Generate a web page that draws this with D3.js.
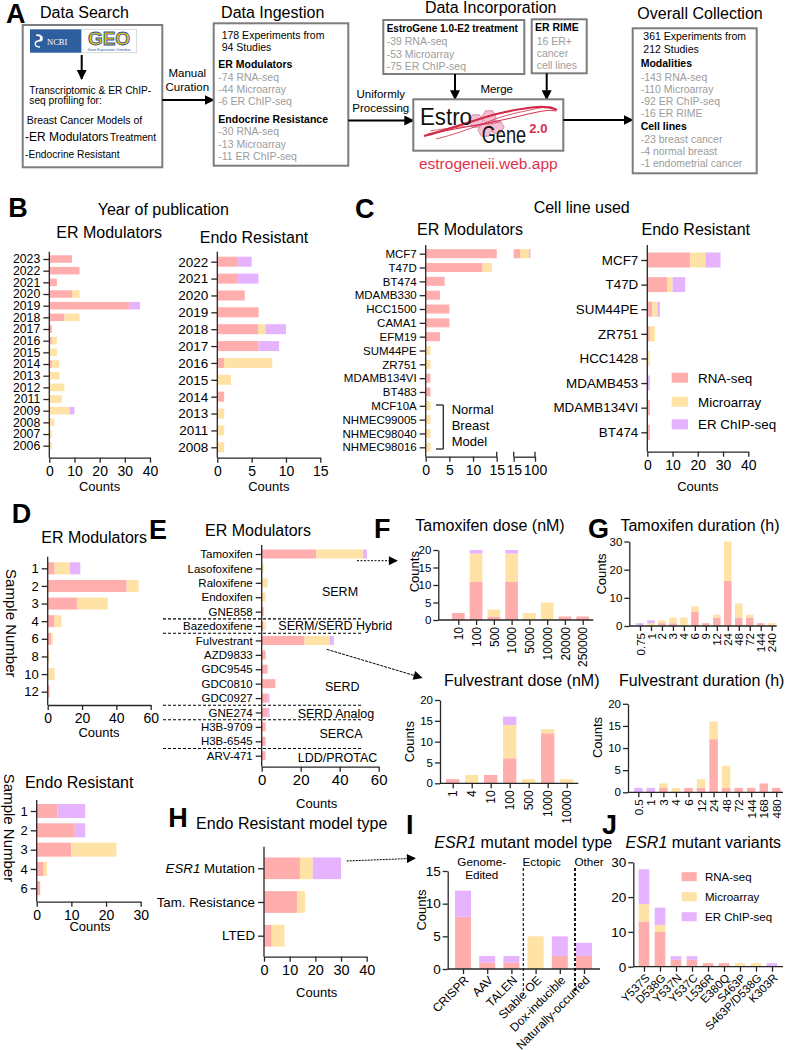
<!DOCTYPE html>
<html><head><meta charset="utf-8">
<script src="https://cdn.jsdelivr.net/npm/d3@7"></script>
<style>body{margin:0;background:#fff}svg{display:block}</style>
</head><body><svg id="c" width="785" height="1050"></svg>
<script>
// ================= DATA =================
const seriesKeys = ["rna","mic","chip"];
const seriesLabels = ["RNA-seq","Microarray","ER ChIP-seq"];

const yearsER = ["2023","2022","2021","2020","2019","2018","2017","2016","2015","2014","2013","2012","2011","2009","2008","2007","2006"];
const yearsER_rna  = [9,12,3,9,32,6,1,1,0,1,0,0,0,0,0,0,0];
const yearsER_mic  = [0,0,0,3,0,6,0,2,3,3,4,6,5,8,2,1,1];
const yearsER_chip = [0,0,0,0,4,0,0,0,0,0,0,0,0,2,0,0,0];

const yearsEndo = ["2022","2021","2020","2019","2018","2017","2016","2015","2014","2013","2011","2008"];
const yearsEndo_rna  = [3,3,4,6,6,6,1,0,1,0,0,0];
const yearsEndo_mic  = [0,0,0,0,1,0,7,2,0,1,1,1];
const yearsEndo_chip = [2,3,0,0,3,3,0,0,0,0,0,0];

const cellER = ["MCF7","T47D","BT474","MDAMB330","HCC1500","CAMA1","EFM19","SUM44PE","ZR751","MDAMB134VI","BT483","MCF10A","NHMEC99005","NHMEC98040","NHMEC98016"];
const cellER_rna  = [40,12,4,3,5,5,3,0,0,1,1,0,0,0,0];
const cellER_mic  = [36,2,0,0,0,0,0,1,1,0,0,1,1,1,1];
const cellER_chip = [6,0,0,0,0,0,0,0,0,0,0,0,0,0,0];

const cellEndo = ["MCF7","T47D","SUM44PE","ZR751","HCC1428","MDAMB453","MDAMB134VI","BT474"];
const cellEndo_rna  = [17,8,2,1,0,0,1,1];
const cellEndo_mic  = [6,2,2,2,1,0,0,0];
const cellEndo_chip = [6,5,1,0,0,1,0,0];

const sampER = ["1","2","3","4","6","8","10","12"];
const sampER_rna  = [4,46,17,4,2,0,0,1];
const sampER_mic  = [9,7,18,4,1,1,4,0];
const sampER_chip = [6,0,0,0,0,0,0,0];

const sampEndo = ["1","2","3","4","6"];
const sampEndo_rna  = [6,11,10,2,1];
const sampEndo_mic  = [0,0,13,1,0];
const sampEndo_chip = [8,3,0,0,0];

const drugs = ["Tamoxifen","Lasofoxifene","Raloxifene","Endoxifen","GNE858","Bazedoxifene","Fulvestrant","AZD9833","GDC9545","GDC0810","GDC0927","GNE274","H3B-9709","H3B-6545","ARV-471"];
const drugs_rna  = [28,0,0,0,1,1,22,2,3,7,3,3,2,2,2];
const drugs_mic  = [24,1,3,2,0,1,13,0,0,0,0,0,0,0,0];
const drugs_chip = [2,0,0,0,0,0,2,0,0,0,1,1,0,0,0];

const tamDose = ["10","100","500","1000","5000","10000","20000","250000"];
const tamDose_rna  = [2,11,1,11,0,0,1,1];
const tamDose_mic  = [0,8,2,8,2,5,0,0];
const tamDose_chip = [0,1,0,1,0,0,0,0];

const tamDur = ["0.75","1","2","3","4","6","9","12","24","48","72","144","240"];
const tamDur_rna  = [0,0,1,1,0,5,1,3,16,3,3,1,0];
const tamDur_mic  = [0,1,1,2,3,2,0,1,14,5,1,0,1];
const tamDur_chip = [1,1,0,0,0,0,0,0,0,0,0,0,0];

const fulDose = ["1","4","10","100","500","1000","10000"];
const fulDose_rna  = [1,0,2,6,0,12,0];
const fulDose_mic  = [0,2,0,8,1,1,1];
const fulDose_chip = [0,0,0,2,0,0,0];

const fulDur = ["0.5","1","3","4","6","12","24","48","72","144","168","480"];
const fulDur_rna  = [0,0,1,0,1,1,12,1,1,1,2,1];
const fulDur_mic  = [0,0,1,1,0,2,4,5,0,0,0,0];
const fulDur_chip = [1,1,0,0,0,0,0,0,0,0,0,0];

const models = ["ESR1 Mutation","Tam. Resistance","LTED"];
const models_rna  = [14,13,3];
const models_mic  = [5,3,5];
const models_chip = [11,0,0];

const mutTypes = ["CRISPR","AAV","TALEN","Stable OE","Dox-inducible","Naturally-occurred"];
const mutTypes_rna  = [8,1,1,0,2,2];
const mutTypes_mic  = [0,0,0,5,0,0];
const mutTypes_chip = [4,1,1,0,3,2];

const variants = ["Y537S","D538G","Y537N","Y537C","L536R","E380Q","S463P","S463P/D538G","K303R"];
const variants_rna  = [13,10,2,2,1,1,0,0,0];
const variants_mic  = [5,2,0,0,0,0,1,1,0];
const variants_chip = [10,5,1,1,0,0,0,0,1];

// tick labels
const ticksB1 = [0,10,20,30,40], ticksB2 = [0,5,10,15];
const ticksC1a = [0,5,10,15], ticksC1b = [15,100], ticksC2 = [0,10,20,30,40];
const ticksD1 = [0,20,40,60], ticksD2 = [0,10,20,30];
const ticksE = [0,20,40,60], ticksH = [0,10,20,30,40];
const ticks20 = [0,5,10,15,20], ticks30 = [0,10,20,30], ticksI = [0,5,10,15];

// ================= STYLE =================
const FONT = "'Liberation Sans', Arial, Helvetica, sans-serif";
const COL = {rna:"#ffadad", mic:"#ffe2a6", chip:"#e6b3ff"};
const AX = "#262626";
const TICK = 5;
const GRAY = "#9c9c9c";
const BOXC = "#7d7d7d";

const svg = d3.select('#c');
svg.append('rect').attr('width',785).attr('height',1050).attr('fill','#fff');
const defs = svg.append('defs');
defs.append('marker').attr('id','ah').attr('viewBox','0 0 10 10').attr('refX',9).attr('refY',5)
  .attr('markerWidth',5).attr('markerHeight',5).attr('orient','auto')
  .append('path').attr('d','M0,0 L10,5 L0,10 z').attr('fill','#000');
defs.append('marker').attr('id','ahs').attr('viewBox','0 0 10 10').attr('refX',9).attr('refY',5)
  .attr('markerWidth',10).attr('markerHeight',9).attr('markerUnits','userSpaceOnUse').attr('orient','auto')
  .append('path').attr('d','M0,0 L10,5 L0,10 z').attr('fill','#000');

function txt(x, y, s, o = {}) {
  const t = svg.append('text').attr('x', x).attr('y', y).text(s)
    .attr('font-family', FONT).attr('font-size', o.fs || 12).attr('fill', o.fill || '#000')
    .attr('text-anchor', o.anchor || 'start');
  if (o.bold) t.attr('font-weight', 'bold');
  if (o.italic) t.attr('font-style', 'italic');
  if (o.rot) t.attr('transform', `rotate(${o.rot},${x},${y})`);
  return t;
}
function richTxt(x, y, parts, o = {}) {
  const t = svg.append('text').attr('x', x).attr('y', y)
    .attr('font-family', FONT).attr('font-size', o.fs || 12).attr('fill', '#000')
    .attr('text-anchor', o.anchor || 'start');
  parts.forEach(p => t.append('tspan').text(p[0]).attr('font-style', p[1] ? 'italic' : null));
  return t;
}
function box(x, y, w, h) {
  svg.append('rect').attr('x', x).attr('y', y).attr('width', w).attr('height', h)
    .attr('fill', '#fff').attr('stroke', BOXC).attr('stroke-width', 2);
}
function arrow(x1, y1, x2, y2, o = {}) {
  svg.append('line').attr('x1', x1).attr('y1', y1).attr('x2', x2).attr('y2', y2)
    .attr('stroke', '#000').attr('stroke-width', o.w || 2)
    .attr('stroke-dasharray', o.dash || null)
    .attr('marker-end', o.thin ? 'url(#ahs)' : 'url(#ah)');
}
function line(x1, y1, x2, y2, o = {}) {
  svg.append('line').attr('x1', x1).attr('y1', y1).attr('x2', x2).attr('y2', y2)
    .attr('stroke', o.c || AX).attr('stroke-width', o.w || 1.3).attr('stroke-dasharray', o.dash || null);
}
function styleAxis(sel, fs) {
  sel.attr('font-family', FONT).attr('font-size', fs);
  sel.selectAll('line').attr('stroke', AX).attr('stroke-width', 1.3);
  sel.selectAll('path').attr('stroke', AX).attr('stroke-width', 1.3);
  sel.selectAll('text').attr('fill', '#000');
}
function rowsOf(cats, rna, mic, chip) {
  return cats.map((c, i) => ({cat: c, rna: rna[i], mic: mic[i], chip: chip[i]}));
}

function hStack(o) {
  const g = svg.append('g');
  const y = d3.scalePoint().domain(o.cats).range([o.yFirst, o.yLast]);
  const x = d3.scaleLinear().domain([0, o.max]).range([o.x0, o.x1]);
  const st = d3.stack().keys(seriesKeys)(rowsOf(o.cats, o.rna, o.mic, o.chip));
  g.selectAll('g.s').data(st).join('g').attr('class', 's').attr('fill', d => COL[d.key])
    .selectAll('rect').data(d => d.filter(e => e[1] > e[0])).join('rect')
    .attr('x', d => x(d[0])).attr('y', d => y(d.data.cat) - o.barH / 2)
    .attr('width', d => x(d[1]) - x(d[0])).attr('height', o.barH);
  const ya = g.append('g').attr('transform', `translate(${o.x0},0)`)
    .call(d3.axisLeft(y).tickSize(TICK + 1).tickPadding(3).tickSizeOuter(0));
  ya.select('.domain').remove();
  styleAxis(ya, o.catFont);
  g.append('line').attr('x1', o.x0).attr('x2', o.x0).attr('y1', o.axisTop).attr('y2', o.axisBot)
    .attr('stroke', AX).attr('stroke-width', 1.3);
  const xa = g.append('g').attr('transform', `translate(0,${o.axisBot})`)
    .call(d3.axisBottom(x).tickValues(o.ticks).tickSize(TICK).tickSizeOuter(0).tickPadding(3));
  styleAxis(xa, o.tickFont);
  return {x, y, g, ya};
}

function vStack(o) {
  const g = svg.append('g');
  const x = d3.scalePoint().domain(o.cats).range([o.xFirst, o.xLast]);
  const y = d3.scaleLinear().domain([0, o.max]).range([o.y0, o.y1]);
  const st = d3.stack().keys(seriesKeys)(rowsOf(o.cats, o.rna, o.mic, o.chip));
  g.selectAll('g.s').data(st).join('g').attr('class', 's').attr('fill', d => COL[d.key])
    .selectAll('rect').data(d => d.filter(e => e[1] > e[0])).join('rect')
    .attr('x', d => x(d.data.cat) - o.bw / 2).attr('width', o.bw)
    .attr('y', d => y(d[1])).attr('height', d => y(d[0]) - y(d[1]));
  const xa = g.append('g').attr('transform', `translate(0,${o.y0})`)
    .call(d3.axisBottom(x).tickSize(TICK).tickSizeOuter(0));
  xa.select('.domain').remove();
  styleAxis(xa, o.catFont);
  if (o.rot === -90) {
    xa.selectAll('text').attr('transform', 'rotate(-90)').attr('x', -(TICK + 2)).attr('y', 0)
      .attr('dy', '0.35em').attr('text-anchor', 'end');
  } else {
    xa.selectAll('text').attr('transform', `translate(3,${TICK + 4}) rotate(-45)`).attr('x', 0).attr('y', 0)
      .attr('dy', '0.35em').attr('text-anchor', 'end');
  }
  g.append('line').attr('x1', o.axL).attr('x2', o.axR).attr('y1', o.y0).attr('y2', o.y0)
    .attr('stroke', AX).attr('stroke-width', 1.3);
  const ya = g.append('g').attr('transform', `translate(${o.axL},0)`)
    .call(d3.axisLeft(y).tickValues(o.ticks).tickSize(TICK).tickSizeOuter(0).tickPadding(2));
  styleAxis(ya, o.tickFont);
  return {x, y, g};
}

function legend(x, ys, fs, sw, sh, tx) {
  seriesKeys.forEach((k, i) => {
    svg.append('rect').attr('x', x).attr('y', ys[i] - sh / 2).attr('width', sw).attr('height', sh).attr('fill', COL[k]);
    txt(tx, ys[i] + fs * 0.36, seriesLabels[i], {fs});
  });
}

// ================= PANEL A =================
txt(6, 23, 'A', {fs: 27, bold: true});
txt(40, 18, 'Data Search', {fs: 16});
box(22.7, 25, 139.6, 142.3);
svg.append('rect').attr('x', 30).attr('y', 29.3).attr('width', 51.7).attr('height', 23.4).attr('fill', '#2d5f9e');
svg.append('path').attr('d', 'M36,35 C42,35 42,40 38,41 C34,42 34,47 40,47 M38,35 C44,36 43,41 39,41')
  .attr('stroke', '#fff').attr('stroke-width', 1.3).attr('fill', 'none');
txt(47, 45, 'NCBI', {fs: 8.5, fill: '#fff'}).attr('font-family', "'Liberation Serif', serif");
svg.append('rect').attr('x', 81.7).attr('y', 29.3).attr('width', 55).attr('height', 23.4).attr('fill', '#fff').attr('stroke', '#d0d0d0').attr('stroke-width', 0.8);
txt(109, 45, 'GEO', {fs: 19, bold: true, anchor: 'middle', fill: '#f5c400'}).attr('stroke', '#2a55a5').attr('stroke-width', 0.9);
txt(109, 50.8, 'Gene Expression Omnibus', {fs: 3.6, anchor: 'middle', fill: '#2a55a5'});
arrow(81.7, 55, 81.7, 79);
txt(29.3, 93.5, 'Transcriptomic & ER ChIP-', {fs: 10.2});
txt(29.3, 103.5, 'seq profiling for:', {fs: 10.2});
txt(26.7, 123.5, 'Breast Cancer Models of', {fs: 10.5});
txt(25, 141, '-ER Modulators', {fs: 12});
txt(110, 141, 'Treatment', {fs: 10.2});
txt(25, 157.5, '-Endocrine Resistant', {fs: 10.2});
txt(187.3, 76.7, 'Manual', {fs: 11.5, anchor: 'middle'});
txt(187.3, 91.3, 'Curation', {fs: 11.5, anchor: 'middle'});
arrow(162.3, 100, 213.7, 100);

txt(272.7, 18, 'Data Ingestion', {fs: 16, anchor: 'middle'});
box(213.7, 23.3, 134.6, 142.4);
const box2Lines = [["178 Experiments from",221.7,38.7,'k'],["94 Studies",221.7,51.4,'k'],["ER Modulators",218.3,68,'b'],["-74 RNA-seq",218.3,81,'g'],["-44 Microarray",218.3,93,'g'],["-6 ER ChIP-seq",218.3,105.4,'g'],["Endocrine Resistance",218.3,122.7,'b'],["-30 RNA-seq",218.3,135.4,'g'],["-13 Microarray",218.3,147.7,'g'],["-11 ER ChIP-seq",218.3,159.7,'g']];
function boxLines(arr, fs) {
  arr.forEach(l => txt(l[1], l[2], l[0], {fs: l[4] || fs, bold: l[3] === 'b', fill: l[3] === 'g' ? GRAY : '#000'}));
}
boxLines(box2Lines, 10.5);
txt(380.8, 98.3, 'Uniformly', {fs: 11.5, anchor: 'middle'});
txt(380.8, 112.3, 'Processing', {fs: 11.5, anchor: 'middle'});
arrow(348.3, 120.5, 413.3, 120.5);

txt(490.7, 12.5, 'Data Incorporation', {fs: 16, anchor: 'middle'});
box(383.3, 20, 141, 54);
boxLines([["EstroGene 1.0-E2 treatment",386.7,32,'b',10],["-39 RNA-seq",386.7,45.4,'g'],["-53 Microarray",386.7,57.7,'g'],["-75 ER ChIP-seq",386.7,69.7,'g']], 10.5);
box(531.7, 19.3, 55, 54);
boxLines([["ER RIME",535,31,'b'],["16 ER+",536.7,45.4,'g'],["cancer",536.7,57.4,'g'],["cell lines",536.7,69.4,'g']], 10.5);
arrow(455, 74, 455, 99.3);
arrow(546.7, 73.3, 546.7, 99.3);
txt(496.7, 93, 'Merge', {fs: 11.5, anchor: 'middle'});
box(413.3, 99.3, 150, 51.4);
// logo decoration
[[476,121],[489,117],[485,130],[497,127]].forEach(c => {
  const r = 7.2;
  const pts = d3.range(6).map(i => [c[0] + r * Math.cos(Math.PI / 3 * i), c[1] + r * Math.sin(Math.PI / 3 * i)]);
  svg.append('path').attr('d', 'M' + pts.map(p => p.join(',')).join('L') + 'Z')
    .attr('fill', '#f3b7cf').attr('stroke', '#b9678f').attr('stroke-width', 0.7).attr('opacity', 0.9);
});
[['M424,136 C455,128 485,116 505,112 S545,104 557,110',2.2],['M428,134 C465,127 495,122 520,116 S548,110 556,111',1],['M436,139 C470,131 492,118 516,113 S540,107 552,107',0.8],['M430,131 C460,126 480,126 500,122',0.7]]
  .forEach(p => svg.append('path').attr('d', p[0]).attr('fill', 'none').attr('stroke', '#d42a48').attr('stroke-width', p[1]));
txt(420, 125, 'Estro', {fs: 23, fill: '#111'}).attr('textLength', 52).attr('lengthAdjust', 'spacingAndGlyphs');
txt(481.7, 142.7, 'Gene', {fs: 23, fill: '#111'}).attr('textLength', 44.5).attr('lengthAdjust', 'spacingAndGlyphs');
txt(529.3, 133.3, '2.0', {fs: 13, bold: true, fill: '#d82c4a'});
txt(488.3, 168.5, 'estrogeneii.web.app', {fs: 15.5, anchor: 'middle', fill: '#df334d'});
arrow(563.3, 120, 632.7, 120);

txt(700, 19.3, 'Overall Collection', {fs: 16, anchor: 'middle'});
box(632.7, 28.3, 124, 145);
boxLines([["361 Experiments from",643.3,40.4,'k'],["212 Studies",643.3,53,'k'],["Modalities",640.7,67,'b'],["-143 RNA-seq",640.7,81,'g'],["-110 Microarray",640.7,93,'g'],["-92 ER ChIP-seq",640.7,105,'g'],["-16 ER RIME",640.7,117,'g'],["Cell lines",640.7,129.7,'b'],["-23 breast cancer",640.7,142.7,'g'],["-4 normal breast",640.7,154.7,'g'],["-1 endometrial cancer",640.7,167,'g']], 10.5);

// ================= PANEL B =================
txt(8.3, 217, 'B', {fs: 27, bold: true});
txt(163.3, 214.5, 'Year of publication', {fs: 16, anchor: 'middle'});
txt(109.2, 238.3, 'ER Modulators', {fs: 16, anchor: 'middle'});
txt(254, 242.7, 'Endo Resistant', {fs: 16, anchor: 'middle'});
hStack({cats: yearsER, rna: yearsER_rna, mic: yearsER_mic, chip: yearsER_chip, x0: 49.3, x1: 150, max: 40, ticks: ticksB1,
  yFirst: 259, yLast: 445.7, axisTop: 251.7, axisBot: 457.7, barH: 7.5, catFont: 12.3, tickFont: 14});
hStack({cats: yearsEndo, rna: yearsEndo_rna, mic: yearsEndo_mic, chip: yearsEndo_chip, x0: 217.3, x1: 320.3, max: 15, ticks: ticksB2,
  yFirst: 261.7, yLast: 447.3, axisTop: 251.7, axisBot: 457.7, barH: 10, catFont: 13.5, tickFont: 14});
txt(99.6, 491, 'Counts', {fs: 13, anchor: 'middle'});
txt(268.8, 491, 'Counts', {fs: 13, anchor: 'middle'});

// ================= PANEL C =================
txt(355, 218, 'C', {fs: 27, bold: true});
txt(581.7, 213.3, 'Cell line used', {fs: 16, anchor: 'middle'});
txt(470, 235, 'ER Modulators', {fs: 16, anchor: 'middle'});
txt(695.8, 235, 'Endo Resistant', {fs: 16, anchor: 'middle'});
(function brokenC() {
  const g = svg.append('g');
  const y = d3.scalePoint().domain(cellER).range([253.7, 447.3]);
  const x1 = d3.scaleLinear().domain([0, 15]).range([425.7, 496.7]);
  const x2 = d3.scaleLinear().domain([15, 100]).range([513.7, 535]);
  const barH = 9, axisBot = 456.7;
  const st = d3.stack().keys(seriesKeys)(rowsOf(cellER, cellER_rna, cellER_mic, cellER_chip));
  const pieces = [];
  st.forEach(s => s.forEach(d => {
    if (d[1] <= d[0]) return;
    if (d[0] < 15) pieces.push({k: s.key, cat: d.data.cat, xa: x1(d[0]), xb: x1(Math.min(d[1], 15))});
    if (d[1] > 15) pieces.push({k: s.key, cat: d.data.cat, xa: x2(Math.max(d[0], 15)), xb: x2(d[1])});
  }));
  g.selectAll('rect').data(pieces).join('rect').attr('fill', d => COL[d.k])
    .attr('x', d => d.xa).attr('width', d => d.xb - d.xa).attr('y', d => y(d.cat) - barH / 2).attr('height', barH);
  const ya = g.append('g').attr('transform', 'translate(425.7,0)')
    .call(d3.axisLeft(y).tickSize(TICK + 1).tickPadding(3).tickSizeOuter(0));
  ya.select('.domain').remove();
  styleAxis(ya, 11.5);
  g.append('line').attr('x1', 425.7).attr('x2', 425.7).attr('y1', 245).attr('y2', axisBot).attr('stroke', AX).attr('stroke-width', 1.3);
  const xa1 = g.append('g').attr('transform', `translate(0,${axisBot})`)
    .call(d3.axisBottom(x1).tickValues(ticksC1a).tickSize(TICK).tickSizeOuter(0).tickPadding(3));
  styleAxis(xa1, 14);
  const xa2 = g.append('g').attr('transform', `translate(0,${axisBot})`)
    .call(d3.axisBottom(x2).tickValues(ticksC1b).tickSize(TICK).tickSizeOuter(0).tickPadding(3));
  styleAxis(xa2, 14);
  [x1(15), x2(15), x2(100)].forEach(xx => line(xx, axisBot - 5, xx, axisBot));
})();
// bracket for normal breast model
line(443.3, 405, 443.3, 449);
line(436, 405, 443.3, 405);
line(436, 449, 443.3, 449);
txt(451.7, 414, 'Normal', {fs: 13});
txt(451.7, 429.7, 'Breast', {fs: 13});
txt(451.7, 445.7, 'Model', {fs: 13});

hStack({cats: cellEndo, rna: cellEndo_rna, mic: cellEndo_mic, chip: cellEndo_chip, x0: 647.3, x1: 748.3, max: 40, ticks: ticksC2,
  yFirst: 260, yLast: 432.3, axisTop: 245, axisBot: 451.7, barH: 15, catFont: 13.4, tickFont: 14});
txt(697.8, 491, 'Counts', {fs: 13, anchor: 'middle'});
legend(671.7, [377.7, 401.7, 424.3], 13.4, 16.3, 10, 698);

// ================= PANEL D =================
txt(11.7, 522.7, 'D', {fs: 27, bold: true});
txt(94.2, 542.5, 'ER Modulators', {fs: 16, anchor: 'middle'});
hStack({cats: sampER, rna: sampER_rna, mic: sampER_mic, chip: sampER_chip, x0: 47.7, x1: 150.7, max: 60, ticks: ticksD1,
  yFirst: 568.3, yLast: 691.7, axisTop: 556.7, axisBot: 705, barH: 12, catFont: 13, tickFont: 14});
txt(99, 736.5, 'Counts', {fs: 13, anchor: 'middle'});
txt(6, 623.3, 'Sample Number', {fs: 15, anchor: 'middle', rot: 90});

txt(79.2, 788, 'Endo Resistant', {fs: 16, anchor: 'middle'});
hStack({cats: sampEndo, rna: sampEndo_rna, mic: sampEndo_mic, chip: sampEndo_chip, x0: 36.7, x1: 140.7, max: 30, ticks: ticksD2,
  yFirst: 811, yLast: 888.3, axisTop: 800, axisBot: 901.7, barH: 14, catFont: 13, tickFont: 14});
txt(90, 931, 'Counts', {fs: 13, anchor: 'middle'});
txt(4, 828, 'Sample Number', {fs: 15, anchor: 'middle', rot: 90});

// ================= PANEL E =================
txt(149, 539, 'E', {fs: 27, bold: true});
txt(258, 536, 'ER Modulators', {fs: 16, anchor: 'middle'});
const E = hStack({cats: drugs, rna: drugs_rna, mic: drugs_mic, chip: drugs_chip, x0: 261.7, x1: 378.7, max: 60, ticks: ticksE,
  yFirst: 554, yLast: 755.7, axisTop: 545, axisBot: 766.7, barH: 9, catFont: 11.5, tickFont: 15});
txt(316.7, 808, 'Counts', {fs: 13, anchor: 'middle'});
{
  const st = E.y.step();
  const y0 = E.y(drugs[0]);
  [[4,5],[5,6],[10,11],[11,12],[13,14]].forEach(p => {
    const yy = (E.y(drugs[p[0]]) + E.y(drugs[p[1]])) / 2;
    line(163, yy, 363, yy, {c: '#000', w: 1.1, dash: '3,2'});
  });
  const groups = [["SERM",340,2.62,'middle'],["SERM/SERD Hybrid",278.3,4.98,'start'],["SERD",342.3,9.21,'middle'],["SERD Analog",297.7,11.06,'start'],["SERCA",341,12.5,'middle'],["LDD/PROTAC",297.7,14.1,'start']];
  groups.forEach(gr => txt(gr[1], y0 + gr[2] * st + 4.4, gr[0], {fs: 12.5, anchor: gr[3]}));
}
arrow(357, 560.7, 397, 560.7, {w: 1, dash: '2,1.5', thin: true});
arrow(326.7, 649.3, 421.7, 677.7, {w: 1, dash: '3,1', thin: true});

// ================= PANEL F =================
txt(374, 538, 'F', {fs: 27, bold: true});
txt(490, 531, 'Tamoxifen dose (nM)', {fs: 16, anchor: 'middle'});
vStack({cats: tamDose, rna: tamDose_rna, mic: tamDose_mic, chip: tamDose_chip, xFirst: 458.3, xLast: 582.7, max: 20,
  y0: 620, y1: 550, bw: 12.7, axL: 438.3, axR: 593.3, ticks: ticks20, tickFont: 11.5, catFont: 12, rot: -90});
txt(419.5, 571.7, 'Counts', {fs: 13, anchor: 'middle', rot: -90});
txt(521.7, 686, 'Fulvestrant dose (nM)', {fs: 16, anchor: 'middle'});
vStack({cats: fulDose, rna: fulDose_rna, mic: fulDose_mic, chip: fulDose_chip, xFirst: 452.7, xLast: 566.7, max: 20,
  y0: 783.3, y1: 700, bw: 13.3, axL: 440, axR: 578.3, ticks: ticks20, tickFont: 11.5, catFont: 12, rot: -90});
txt(414.5, 741.7, 'Counts', {fs: 13, anchor: 'middle', rot: -90});

// ================= PANEL G =================
txt(588, 538, 'G', {fs: 27, bold: true});
txt(700, 531, 'Tamoxifen duration (h)', {fs: 16, anchor: 'middle'});
vStack({cats: tamDur, rna: tamDur_rna, mic: tamDur_mic, chip: tamDur_chip, xFirst: 640, xLast: 771.7, max: 30,
  y0: 626, y1: 541.5, bw: 7.5, axL: 629.3, axR: 776.7, ticks: ticks30, tickFont: 11.5, catFont: 11.5, rot: -90});
txt(606, 574, 'Counts', {fs: 13, anchor: 'middle', rot: -90});
txt(701.7, 686, 'Fulvestrant duration (h)', {fs: 16, anchor: 'middle'});
vStack({cats: fulDur, rna: fulDur_rna, mic: fulDur_mic, chip: fulDur_chip, xFirst: 638.3, xLast: 776.3, max: 20,
  y0: 792.3, y1: 703.8, bw: 8.5, axL: 628, axR: 783, ticks: ticks20, tickFont: 11.5, catFont: 11.5, rot: -90});
txt(601.5, 737.5, 'Counts', {fs: 13, anchor: 'middle', rot: -90});

// ================= PANEL H =================
txt(168.3, 826.7, 'H', {fs: 27, bold: true});
txt(291.7, 829, 'Endo Resistant model type', {fs: 16, anchor: 'middle'});
const H = hStack({cats: models, rna: models_rna, mic: models_mic, chip: models_chip, x0: 264, x1: 366.7, max: 40, ticks: ticksH,
  yFirst: 868.3, yLast: 935.7, axisTop: 846.7, axisBot: 956.7, barH: 21.7, catFont: 13.3, tickFont: 14.5});
H.ya.selectAll('text').filter(d => d === 'ESR1 Mutation').each(function() {
  const t = d3.select(this); t.text(null);
  t.append('tspan').text('ESR1').attr('font-style', 'italic');
  t.append('tspan').text(' Mutation');
});
txt(316.7, 996.5, 'Counts', {fs: 13, anchor: 'middle'});
arrow(346.7, 861, 415, 858.3, {w: 1, dash: '2,1', thin: true});

// ================= PANEL I =================
txt(406, 834, 'I', {fs: 27, bold: true});
richTxt(523.3, 848, [["ESR1", true], [" mutant model type", false]], {fs: 16, anchor: 'middle'});
vStack({cats: mutTypes, rna: mutTypes_rna, mic: mutTypes_mic, chip: mutTypes_chip, xFirst: 463, xLast: 584, max: 15,
  y0: 969, y1: 871, bw: 16, axL: 447.7, axR: 600, ticks: ticksI, tickFont: 13.5, catFont: 12, rot: -45});
txt(426, 910, 'Counts', {fs: 13, anchor: 'middle', rot: -90});
txt(481.7, 865.7, 'Genome-', {fs: 11.7, anchor: 'middle'});
txt(481.7, 879, 'Edited', {fs: 11.7, anchor: 'middle'});
txt(541.7, 865.7, 'Ectopic', {fs: 11.7, anchor: 'middle'});
txt(589, 865.7, 'Other', {fs: 11.7, anchor: 'middle'});
line(523.3, 868, 523.3, 997, {c: '#000', w: 1.1, dash: '3,2'});
line(575, 868, 575, 993, {c: '#000', w: 1.8, dash: '3,2'});

// ================= PANEL J =================
txt(602, 834, 'J', {fs: 27, bold: true});
richTxt(703.3, 848, [["ESR1", true], [" mutant variants", false]], {fs: 16, anchor: 'middle'});
vStack({cats: variants, rna: variants_rna, mic: variants_mic, chip: variants_chip, xFirst: 644, xLast: 772, max: 30,
  y0: 966.7, y1: 862.3, bw: 10.7, axL: 633.3, axR: 783, ticks: ticks30, tickFont: 13.5, catFont: 11.5, rot: -45});
legend(681.7, [876.7, 896.7, 916.7], 11.5, 15, 9, 705);
</script></body></html>
